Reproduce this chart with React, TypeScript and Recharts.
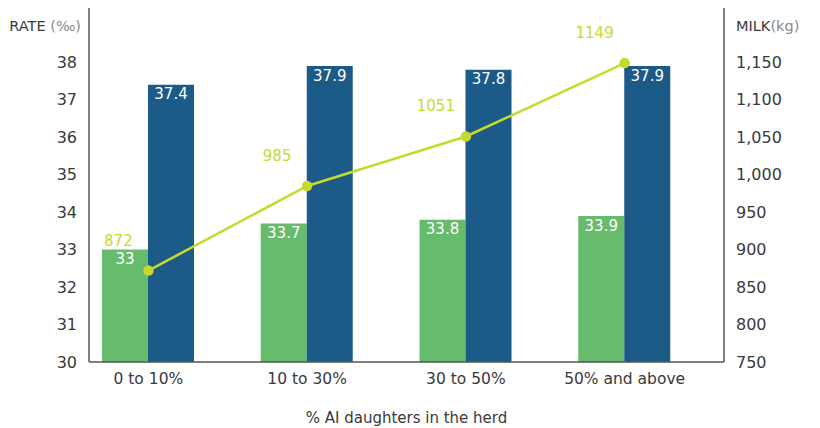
import { ComposedChart, Bar, Line, XAxis, YAxis, LabelList, Label } from 'recharts';

const categories = ['0 to 10%', '10 to 30%', '30 to 50%', '50% and above'];
const greenRate = [33, 33.7, 33.8, 33.9];
const blueRate = [37.4, 37.9, 37.8, 37.9];
const milk = [872, 985, 1051, 1149];
const rateTicks = [30, 31, 32, 33, 34, 35, 36, 37, 38];
const milkTicks = [750, 800, 850, 900, 950, 1000, 1050, 1100, 1150];

const data = categories.map((name, i) => ({
  name,
  green: greenRate[i],
  blue: blueRate[i],
  milk: milk[i],
}));

const FONT = '"DejaVu Sans", "Open Sans", sans-serif';
const GREEN = '#67bb6c';
const BLUE = '#1c5a87';
const LIME = '#c8d92e';
const AXIS = '#555';
const TEXT = '#3a3a3a';

const MilkLabel = (props: any) => {
  const { x, y, value } = props;
  return (
    <text x={x - 30} y={y - 25} textAnchor="middle" fill={LIME} fontSize={15} fontFamily={FONT}>
      {value}
    </text>
  );
};

const App = () => {
  return (
    <div style={{ position: 'absolute', left: 0, top: 0, width: 820, height: 428, background: '#fff' }}>
      <ComposedChart
        width={820}
        height={428}
        data={data}
        margin={{ top: 8, right: 16, left: 9, bottom: 4 }}
        barGap={0}
      >
        <XAxis
          dataKey="name"
          axisLine={{ stroke: AXIS, strokeWidth: 1.5 }}
          tickLine={false}
          tickSize={0}
          tickMargin={11}
          height={62}
          padding={{ left: -20, right: 20 }}
          tick={{ fill: TEXT, fontSize: 15.5, fontFamily: FONT }}
        >
          <Label value="% AI daughters in the herd" position="insideBottom" offset={1} fill={TEXT} fontSize={15} fontFamily={FONT} />
        </XAxis>
        <YAxis
          yAxisId="rate"
          orientation="left"
          width={80}
          domain={[30, 39.45]}
          ticks={rateTicks}
          allowDataOverflow
          axisLine={{ stroke: AXIS, strokeWidth: 1.5 }}
          tickLine={false}
          tickSize={0}
          tickMargin={12}
          tick={{ fill: TEXT, fontSize: 16, fontFamily: FONT }}
        >
          <Label
            content={(p: any) => (
              <text x={p.viewBox.x + p.viewBox.width - 8} y={31} textAnchor="end" fontFamily={FONT} fontSize={14.5}>
                <tspan fill={TEXT}>RATE</tspan>
                <tspan fill="#888"> (‰)</tspan>
              </text>
            )}
          />
        </YAxis>
        <YAxis
          yAxisId="milk"
          orientation="right"
          width={80}
          domain={[750, 1222.5]}
          ticks={milkTicks}
          allowDataOverflow
          axisLine={{ stroke: AXIS, strokeWidth: 1.5 }}
          tickLine={false}
          tickSize={0}
          tickMargin={12}
          tickFormatter={(v: number) => v.toLocaleString('en-US')}
          tick={{ fill: TEXT, fontSize: 16, fontFamily: FONT, textAnchor: 'start' }}
        >
          <Label
            content={(p: any) => (
              <text x={p.viewBox.x + 12} y={31} textAnchor="start" fontFamily={FONT} fontSize={14.5}>
                <tspan fill={TEXT}>MILK</tspan>
                <tspan fill="#888">(kg)</tspan>
              </text>
            )}
          />
        </YAxis>
        <Bar yAxisId="rate" dataKey="green" fill={GREEN} barSize={46} isAnimationActive={false}>
          <LabelList dataKey="green" position="insideTop" offset={4} fill="#fff" fontSize={15} fontFamily={FONT} />
        </Bar>
        <Bar yAxisId="rate" dataKey="blue" fill={BLUE} barSize={46} isAnimationActive={false}>
          <LabelList dataKey="blue" position="insideTop" offset={4} fill="#fff" fontSize={15} fontFamily={FONT} />
        </Bar>
        <Line
          yAxisId="milk"
          dataKey="milk"
          stroke={LIME}
          strokeWidth={2.5}
          dot={{ r: 4, fill: LIME, stroke: LIME }}
          isAnimationActive={false}
        >
          <LabelList dataKey="milk" content={MilkLabel} />
        </Line>
      </ComposedChart>
    </div>
  );
};

export default App;
